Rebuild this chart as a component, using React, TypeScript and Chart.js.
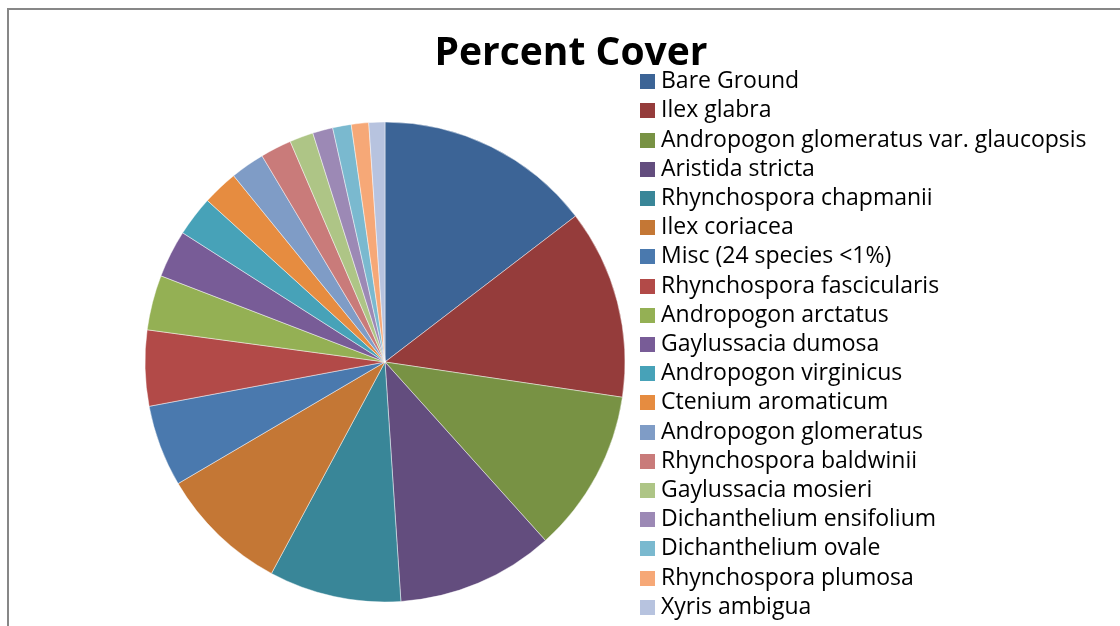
import React, { useEffect, useRef } from "react";
import { Chart, registerables } from "chart.js";

Chart.register(...registerables);

const chartTitle = "Percent Cover";

const categories = [
  "Bare Ground",
  "Ilex glabra",
  "Andropogon glomeratus var. glaucopsis",
  "Aristida stricta",
  "Rhynchospora chapmanii",
  "Ilex coriacea",
  "Misc (24 species <1%)",
  "Rhynchospora fascicularis",
  "Andropogon arctatus",
  "Gaylussacia dumosa",
  "Andropogon virginicus",
  "Ctenium aromaticum",
  "Andropogon glomeratus",
  "Rhynchospora baldwinii",
  "Gaylussacia mosieri",
  "Dichanthelium ensifolium",
  "Dichanthelium ovale",
  "Rhynchospora plumosa",
  "Xyris ambigua",
];

const percentCover = [
  14.6, 12.75, 11.0, 10.6, 8.9, 8.7, 5.5, 5.1, 3.7, 3.2, 2.7, 2.4, 2.3, 2.1,
  1.6, 1.36, 1.25, 1.17, 1.08,
];

const sliceColors = [
  "#3C6496",
  "#953C3B",
  "#789244",
  "#634D7E",
  "#398698",
  "#C47735",
  "#4A79AE",
  "#B24A48",
  "#94B054",
  "#785C97",
  "#47A2B8",
  "#E68C40",
  "#7F9CC6",
  "#C97B7A",
  "#AEC586",
  "#9C89B5",
  "#7AB9CF",
  "#F6A877",
  "#B7C3DF",
];

const FONT = "'Open Sans'";
const LEGEND_SIZE = 23;
const LEGEND_PAD = 6.2;
const BOX = 15;
const BOX_LEFT = 640;
const TEXT_LEFT = 661;
const CENTER_X = 385;
const CANVAS_H = 660;
const PAD_TOP = 64;

function makeSwatch(color: string) {
  const c = document.createElement("canvas");
  c.width = BOX;
  c.height = BOX;
  const g = c.getContext("2d")!;
  g.fillStyle = color;
  g.fillRect(0, 0, BOX, BOX);
  return c;
}

export default function App() {
  const canvasRef = useRef<HTMLCanvasElement | null>(null);

  useEffect(() => {
    const canvas = canvasRef.current;
    if (!canvas) return;

    // legend item geometry: swatch centred at x + P/2, text at x + P + size/2
    const half = LEGEND_SIZE / 2;
    const P = 2 * (TEXT_LEFT - half - BOX_LEFT - BOX / 2);
    const itemX = TEXT_LEFT - half - P;

    const mctx = document.createElement("canvas").getContext("2d")!;
    mctx.font = `${LEGEND_SIZE}px ${FONT}`;
    const maxText = Math.max(...categories.map((c) => mctx.measureText(c).width));
    const legendLeft = itemX - LEGEND_PAD;
    const legendWidth = LEGEND_PAD + P + half + maxText + 10;
    const W = Math.ceil(legendLeft + legendWidth);
    const padRight = W - (legendLeft + legendWidth);
    const padLeft = 2 * CENTER_X - legendLeft;

    canvas.width = W;
    canvas.height = CANVAS_H;
    canvas.style.width = W + "px";
    canvas.style.height = CANVAS_H + "px";

    const swatches = sliceColors.map(makeSwatch);

    const titlePlugin = {
      id: "customTitle",
      afterDraw(chart: any) {
        const ctx = chart.ctx;
        ctx.save();
        ctx.font = `bold 39px ${FONT}`;
        ctx.fillStyle = "#000";
        ctx.textAlign = "center";
        ctx.textBaseline = "alphabetic";
        ctx.fillText(chartTitle, 571, 64.5);
        ctx.restore();
      },
    };

    const chart = new Chart(canvas, {
      type: "pie",
      data: {
        labels: categories,
        datasets: [
          {
            data: percentCover,
            backgroundColor: sliceColors,
            borderColor: "rgba(255,255,255,0.45)",
            borderWidth: 1,
            radius: 240,
          } as any,
        ],
      },
      options: {
        responsive: false,
        animation: false,
        devicePixelRatio: 1,
        layout: {
          padding: { top: PAD_TOP, bottom: 0, left: padLeft, right: padRight },
        },
        plugins: {
          title: { display: false },
          tooltip: { enabled: false },
          legend: {
            display: true,
            position: "right",
            align: "start",
            labels: {
              usePointStyle: true,
              pointStyleWidth: P,
              boxWidth: BOX,
              boxHeight: BOX,
              padding: LEGEND_PAD,
              color: "#000",
              font: { family: FONT, size: LEGEND_SIZE },
              generateLabels: () =>
                categories.map((c, i) => ({
                  text: c,
                  fillStyle: sliceColors[i],
                  strokeStyle: sliceColors[i],
                  pointStyle: swatches[i],
                  lineWidth: 0,
                  hidden: false,
                  index: i,
                })),
            },
          },
        },
      } as any,
      plugins: [titlePlugin],
    });

    return () => chart.destroy();
  }, []);

  return (
    <div
      style={{
        position: "fixed",
        left: 0,
        top: 0,
        width: 1120,
        height: 626,
        overflow: "hidden",
        background: "#fff",
      }}
    >
      <div
        style={{
          position: "absolute",
          left: 7,
          top: 8,
          width: 2000,
          height: 2000,
          borderLeft: "2px solid #878787",
          borderTop: "2px solid #878787",
        }}
      />
      <canvas
        ref={canvasRef}
        style={{ position: "absolute", left: 0, top: 0 }}
      />
    </div>
  );
}
